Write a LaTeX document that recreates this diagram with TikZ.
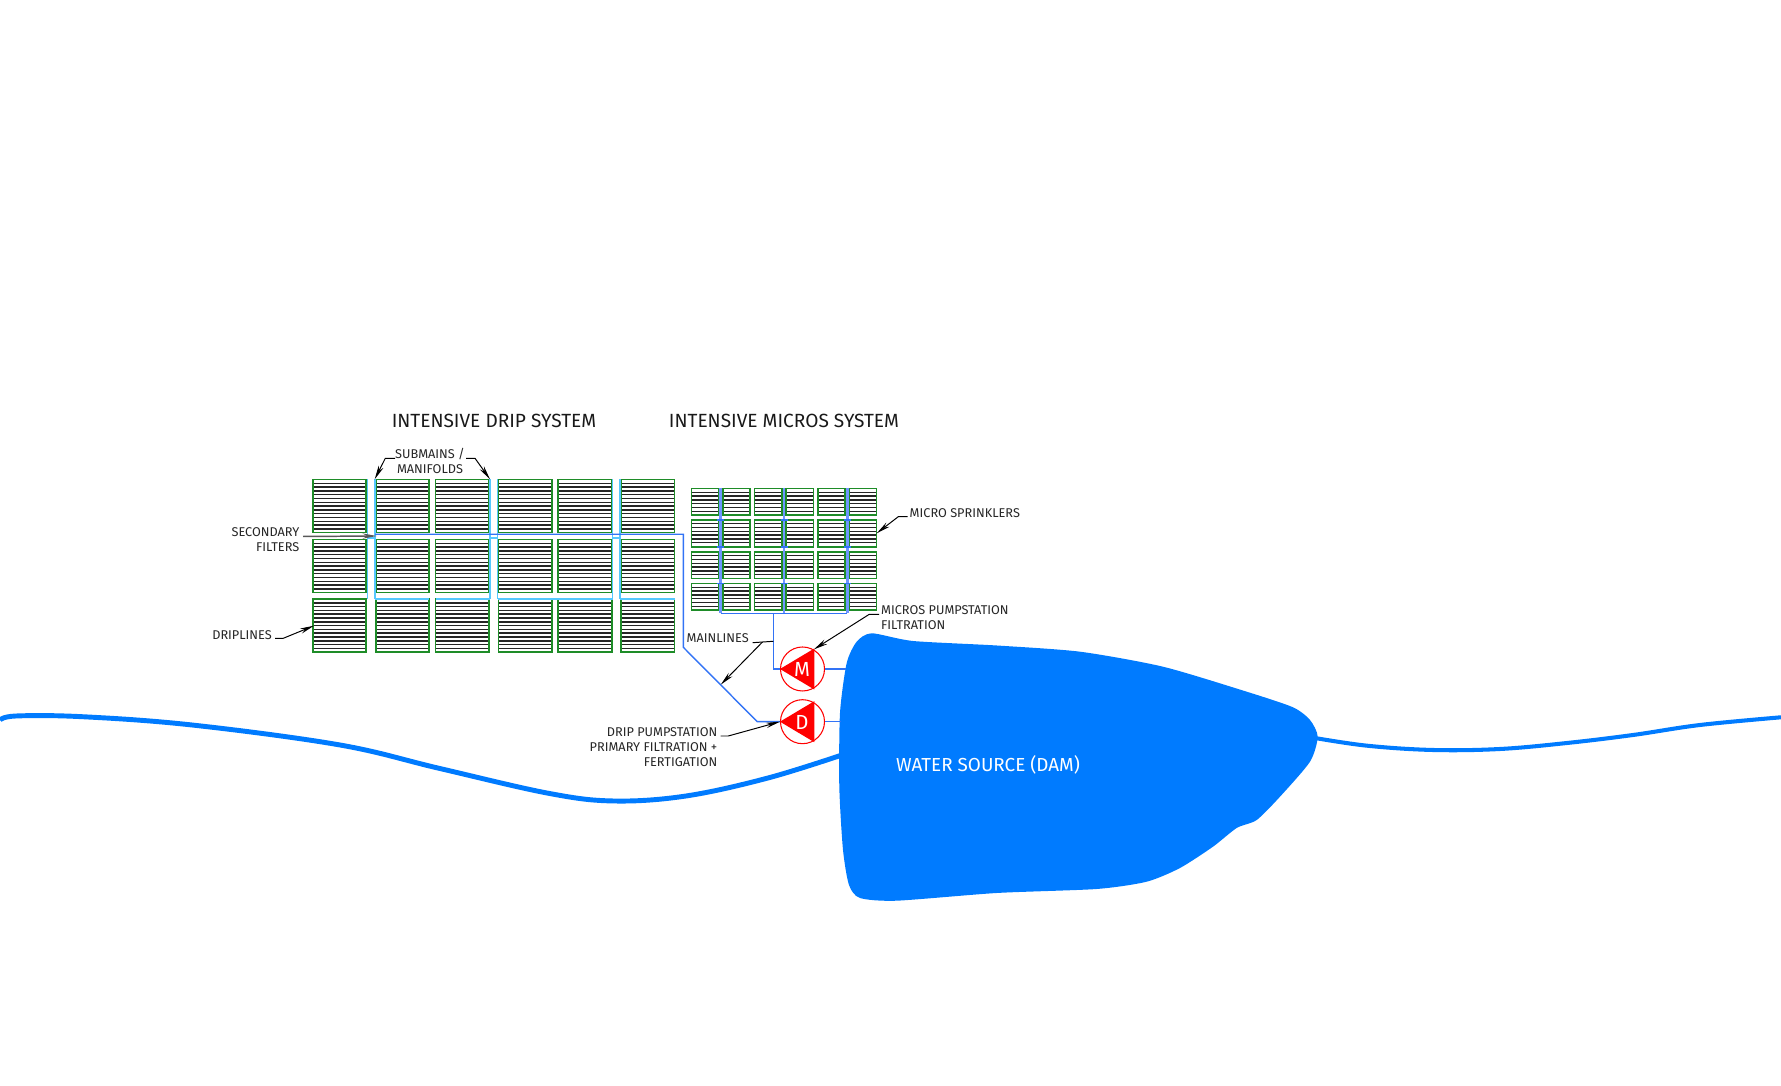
\documentclass[tikz,border=0pt]{standalone}
\usepackage{fontspec}
\setmainfont{Fira Sans}
\usetikzlibrary{arrows.meta}
\definecolor{damblue}{RGB}{0,123,255}
\definecolor{mainblue}{RGB}{50,115,245}
\definecolor{subcyan}{RGB}{85,200,255}
\definecolor{microblue}{RGB}{110,150,255}
\definecolor{blockgreen}{RGB}{30,140,40}
\definecolor{pumpred}{RGB}{255,0,0}
\tikzset{
  leader/.style={black,line width=.28pt},
  leadarrow/.style={black,line width=.28pt,-{Stealth[length=4pt,width=1.5pt]}},
  lbl/.style={font=\fontsize{3.62}{4.27}\selectfont,text=black!85,inner sep=0pt,align=center},
  lblleft/.style={lbl,anchor=east,align=right},
  lblright/.style={lbl,anchor=west,align=left},
  systitle/.style={font=\fontsize{5.43}{6}\selectfont,text=black!90,inner sep=0pt},
  pumpring/.style={circle,draw=pumpred,line width=.3pt,minimum size=44*.01cm,inner sep=0pt},
  pumpletter/.style={text=white,inner sep=0pt,font=\fontsize{5.8}{6}\selectfont},
  mainline/.style={mainblue,line width=.4pt},
  submain/.style={subcyan,line width=.4pt},
  micromain/.style={microblue,line width=.8pt},
}
\begin{document}
\begin{tikzpicture}[x=.01cm,y=-.01cm]
\useasboundingbox (0,0) rectangle (1781,1086);
% river
\draw[damblue,line width=1.4pt] plot[smooth,tension=.6] coordinates {(0,720) (16,716) (82,716.7) (192,725) (340,745) (439,768.3) (548.5,793.3) (614,801) (686,796) (768,778) (845,754)};
\draw[damblue,line width=1.15pt] plot[smooth,tension=.6] coordinates {(1312,737.5) (1367,745.7) (1433,750) (1500,749) (1567,743) (1633,735) (1700,725) (1781,717.3)};
% dam
\fill[damblue] plot[smooth cycle,tension=.42] coordinates {(871.7,633.3) (913,641) (996.7,645.5) (1080,651.7) (1163,666.7) (1246.7,691.7) (1293,707.3) (1310,720) (1317.7,736.7) (1310,761.7) (1280,796.7) (1256.7,820) (1236.7,828) (1213,846.7) (1180,868) (1146.7,881.7) (1096.7,889) (996.7,893) (896.7,900.7) (860,898) (849,885) (843,850) (839.3,786.7) (840,713) (846.7,663) (856.7,641.7)};
% drip blocks
\foreach \xa/\xb in {313/366,376/429,435.5/489,498.5/552,558/612,621/674.5}
  \foreach \ya/\yb in {479.5/532.5,539.5/592.5,599/652}{
    \foreach \k in {1,...,13}
      \draw[black!85,line width=.44pt] (\xa,\ya+\k*3.8) -- (\xb,\ya+\k*3.8);
    \draw[blockgreen,line width=.4pt] (\xa,\ya) rectangle (\xb,\yb);
  }
% micro blocks
\foreach \xa/\xb in {691.5/719,723/750,754.5/782,786/813.5,818/845,849/876.5}
  \foreach \ya/\yb in {488.5/515,520/547,552/578.5,583.5/610}{
    \foreach \k in {1,...,6}
      \draw[black!85,line width=.4pt] (\xa,\ya+\k*3.8) -- (\xb,\ya+\k*3.8);
    \draw[blockgreen,line width=.4pt] (\xa,\ya) rectangle (\xb,\yb);
  }
% submains
\foreach \xa/\xb in {367.5/375,490/497.5,612.5/620}{
  \draw[submain] (\xa,479.5) -- (\xa,599);
  \draw[submain] (\xb,479.5) -- (\xb,599);
  \draw[submain] (\xa,538) -- (\xb,538);
}
\draw[submain] (375,599) -- (429,599);
\draw[submain] (435.5,599) -- (490,599);
\draw[submain] (497.5,599) -- (612.5,599);
\draw[submain] (620,599) -- (674.5,599);
% micro submains
\foreach \xa in {720.7,784,847.3}{
  \draw[micromain] (\xa,488) -- (\xa,613);
  \foreach \ya in {520,547,583.5}
    \draw[mainblue,line width=.3pt] (\xa-3.5,\ya) -- (\xa+3.5,\ya);
}
% pumps
\node[pumpring] (pumpm) at (802.5,669) {};
\node[pumpring] (pumpd) at (802.5,721.7) {};
\fill[pumpred] (pumpm.west) -- (814.3,648.5) -- (814.3,689.5) -- cycle;
\fill[pumpred] (pumpd.west) -- (814.3,701.2) -- (814.3,742.2) -- cycle;
\node[pumpletter] (letm) at (802,669.5) {M};
\node[pumpletter] (letd) at (802,722) {D};
% mainlines
\coordinate (damm) at (846,669);
\coordinate (damd) at (841,721.7);
\coordinate (dripstart) at (375,534.3);
\coordinate (microtee) at (773.3,613.3);
\coordinate (microleft) at (720.7,613.3);
\coordinate (microright) at (847.3,613.3);
\draw[mainline] (dripstart) -- (683.3,534.3) -- (683.3,647.3) -- (757.3,721.7) -- (pumpd.west);
\draw[mainline] (pumpd.east) -- (damd);
\draw[mainline] (microleft) -- (microright);
\draw[mainline] (microtee) -- (773.3,669) -- (pumpm.west);
\draw[mainline] (pumpm.east) -- (damm);
% labels
\node[systitle] (driptitle) at (494,420.5) {INTENSIVE DRIP SYSTEM};
\node[systitle] (microtitle) at (784,420.5) {INTENSIVE MICROS SYSTEM};
\node[lbl] (submains) at (430,460.5) {SUBMAINS /\\MANIFOLDS};
\node[lblleft] (secondary) at (300,539.5) {SECONDARY\\FILTERS};
\node[lblleft] (driplines) at (272.5,634.7) {DRIPLINES};
\node[lblright] (sprinklers) at (909,512.8) {MICRO SPRINKLERS};
\node[lblright] (microsstn) at (880.5,617.3) {MICROS PUMPSTATION\\FILTRATION};
\node[lblleft] (mainlines) at (749.5,637.7) {MAINLINES};
\node[lblleft] (dripstn) at (718,746.7) {DRIP PUMPSTATION\\PRIMARY FILTRATION +\\FERTIGATION};
\node[pumpletter,font=\fontsize{5.36}{6}\selectfont] (watersrc) at (988,764.5) {WATER SOURCE (DAM)};
% leaders
\coordinate (sub1) at (374.7,479.3);
\coordinate (sub2) at (490,479.3);
\coordinate (filter1) at (376.7,536);
\coordinate (dripblock) at (314,625.7);
\coordinate (microblock) at (876.7,533.3);
\coordinate (mainl) at (720.7,684.7);
\coordinate (mainm) at (773.3,641.3);
\draw[leadarrow] ([shift={(-35,-2.2)}]submains.center) -- (385.3,458.3) -- (sub1);
\draw[leadarrow] ([shift={(36,-2.2)}]submains.center) -- (475,458.3) -- (sub2);
\draw[leadarrow,line width=.42pt,black!65] ([shift={(3,-3)}]secondary.east) -- (filter1);
\draw[leadarrow] ([shift={(2.5,3.6)}]driplines.east) -- (283.3,638.3) -- (dripblock);
\draw[leadarrow] ([shift={(-1.3,3.9)}]sprinklers.west) -- (898.3,516.7) -- (microblock);
\draw[leadarrow] ([shift={(-1.5,-3)}]microsstn.west) -- (869.3,614.3) -- (pumpm.60);
\draw[leader] (mainm) -- ([shift={(3.2,5)}]mainlines.east);
\draw[leadarrow] (762.5,642) -- (mainl);
\draw[leadarrow] ([shift={(2.7,-10.7)}]dripstn.east) -- (728.3,736) -- (pumpd.west);
\end{tikzpicture}
\end{document}
